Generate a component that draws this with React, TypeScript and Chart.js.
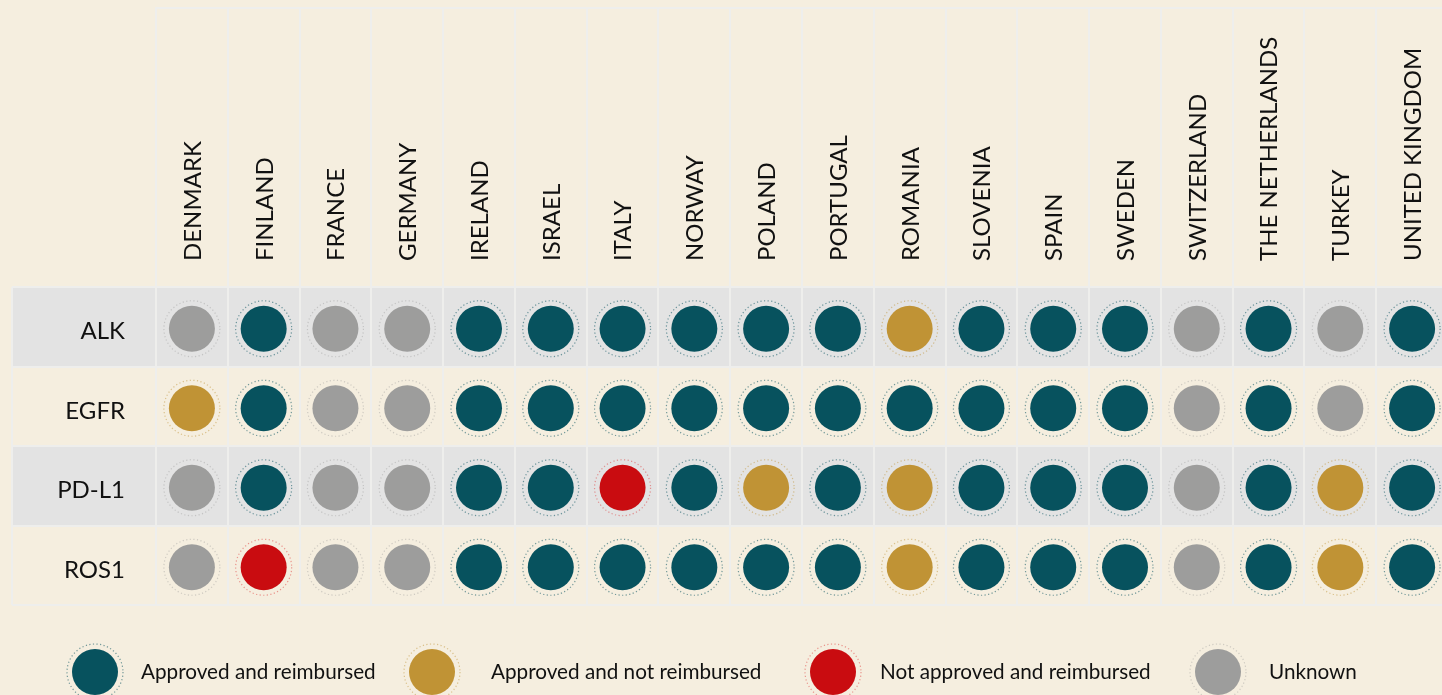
import React, { useEffect, useRef } from "react";
import { Chart, registerables } from "chart.js";

Chart.register(...registerables);

const countries = [
  "DENMARK", "FINLAND", "FRANCE", "GERMANY", "IRELAND", "ISRAEL", "ITALY", "NORWAY", "POLAND",
  "PORTUGAL", "ROMANIA", "SLOVENIA", "SPAIN", "SWEDEN", "SWITZERLAND", "THE NETHERLANDS", "TURKEY",
  "UNITED KINGDOM",
];
const biomarkers = ["ALK", "EGFR", "PD-L1", "ROS1"];

const statusLabels = [
  "Approved and reimbursed",
  "Approved and not reimbursed",
  "Not approved and reimbursed",
  "Unknown",
];
const statusColors = ["#07525e", "#c09335", "#c90c10", "#9d9d9c"];
const statusRings = [
  "rgba(7,82,94,0.55)",
  "rgba(192,147,53,0.5)",
  "rgba(220,40,40,0.45)",
  "rgba(150,150,150,0.4)",
];

// 0 = approved & reimbursed, 1 = approved & not reimbursed, 2 = not approved & reimbursed, 3 = unknown
const alkStatus = [3, 0, 3, 3, 0, 0, 0, 0, 0, 0, 1, 0, 0, 0, 3, 0, 3, 0];
const egfrStatus = [1, 0, 3, 3, 0, 0, 0, 0, 0, 0, 0, 0, 0, 0, 3, 0, 3, 0];
const pdl1Status = [3, 0, 3, 3, 0, 0, 2, 0, 1, 0, 1, 0, 0, 0, 3, 0, 1, 0];
const ros1Status = [3, 2, 3, 3, 0, 0, 0, 0, 0, 0, 1, 0, 0, 0, 3, 0, 1, 0];
const statusRows = [alkStatus, egfrStatus, pdl1Status, ros1Status];

const BG = "#f5eedf";
const ROW_GRAY = "#e3e3e3";
const LINE = "#eeeeec";
const FONT = "Lato, 'Open Sans', sans-serif";

const CANVAS_W = 1471;
const CANVAS_H = 695;
const ROW_SHIFT = -2; // table rows sit slightly above the mark centres
const LEGEND_Y = 672;
const LEGEND_CIRCLE_X = [95, 432, 833, 1218];
const LEGEND_TEXT_X = [141, 491, 880, 1269];

const tablePlugin = {
  id: "tableGrid",
  beforeDraw(chart: any) {
    const { ctx, chartArea, scales } = chart;
    const x = scales.x;
    const y = scales.y;
    const tableLeft = 12;
    const headerTop = 8;
    const rowH = (chartArea.bottom - chartArea.top) / biomarkers.length;
    const colW = (chartArea.right - chartArea.left) / countries.length;
    const top = chartArea.top + ROW_SHIFT;
    const bottom = chartArea.bottom + ROW_SHIFT;
    ctx.save();
    ctx.fillStyle = BG;
    ctx.fillRect(0, 0, chart.width, chart.height);
    biomarkers.forEach((_b, i) => {
      if (i % 2 === 0) {
        const cy = y.getPixelForValue(i) + ROW_SHIFT;
        ctx.fillStyle = ROW_GRAY;
        ctx.fillRect(tableLeft, cy - rowH / 2, chart.width - tableLeft, rowH);
      }
    });
    ctx.strokeStyle = LINE;
    ctx.lineWidth = 2;
    ctx.beginPath();
    for (let i = 0; i <= countries.length; i++) {
      const xb = Math.round(
        x.getPixelForValue(Math.min(i, countries.length - 1)) + (i === countries.length ? colW / 2 : -colW / 2)
      );
      ctx.moveTo(xb, headerTop);
      ctx.lineTo(xb, bottom);
    }
    ctx.moveTo(chartArea.left - 1, headerTop);
    ctx.lineTo(chart.width, headerTop);
    for (let j = 0; j <= biomarkers.length; j++) {
      const yb = Math.round(top + j * rowH);
      ctx.moveTo(tableLeft, yb);
      ctx.lineTo(chart.width, yb);
    }
    ctx.moveTo(tableLeft, top);
    ctx.lineTo(tableLeft, bottom);
    ctx.stroke();
    ctx.restore();
  },
  afterDatasetsDraw(chart: any) {
    const { ctx } = chart;
    ctx.save();
    ctx.lineWidth = 1.2;
    ctx.setLineDash([1.2, 2.4]);
    chart.data.datasets.forEach((ds: any, di: number) => {
      const meta = chart.getDatasetMeta(di);
      meta.data.forEach((pt: any) => {
        ctx.strokeStyle = ds.ringColor;
        ctx.beginPath();
        ctx.arc(pt.x, pt.y, 28, 0, Math.PI * 2);
        ctx.stroke();
      });
    });
    ctx.restore();
  },
  afterDraw(chart: any) {
    const { ctx } = chart;
    const cy = LEGEND_Y;
    ctx.save();
    ctx.font = `20.7px ${FONT}`;
    ctx.textBaseline = "middle";
    ctx.textAlign = "left";
    chart.data.datasets.forEach((ds: any, i: number) => {
      const cx = LEGEND_CIRCLE_X[i];
      ctx.fillStyle = ds.backgroundColor;
      ctx.beginPath();
      ctx.arc(cx, cy, 23, 0, Math.PI * 2);
      ctx.fill();
      ctx.save();
      ctx.lineWidth = 1.2;
      ctx.setLineDash([1.2, 2.4]);
      ctx.strokeStyle = ds.ringColor;
      ctx.beginPath();
      ctx.arc(cx, cy, 28, 0, Math.PI * 2);
      ctx.stroke();
      ctx.restore();
      ctx.fillStyle = "#111111";
      ctx.fillText(ds.label, LEGEND_TEXT_X[i], cy);
    });
    ctx.restore();
  },
};

export default function App() {
  const canvasRef = useRef<HTMLCanvasElement | null>(null);

  useEffect(() => {
    const canvas = canvasRef.current;
    if (!canvas) return;
    const datasets = statusLabels.map((label, s) => {
      const pts: { x: string; y: string }[] = [];
      statusRows.forEach((row, r) => {
        row.forEach((v, c) => {
          if (v === s) pts.push({ x: countries[c], y: biomarkers[r] });
        });
      });
      return {
        label,
        data: pts,
        backgroundColor: statusColors[s],
        borderWidth: 0,
        pointRadius: 23,
        pointHoverRadius: 23,
        ringColor: statusRings[s],
      } as any;
    });

    const chart = new Chart(canvas, {
      type: "scatter",
      data: { datasets },
      plugins: [tablePlugin],
      options: {
        animation: false,
        responsive: false,
        devicePixelRatio: 1,
        events: [],
        layout: { padding: { left: 0, right: 12, top: 0, bottom: 88 } },
        plugins: { legend: { display: false }, tooltip: { enabled: false } },
        scales: {
          x: {
            type: "category",
            labels: countries,
            position: "top",
            offset: true,
            grid: { display: false, drawTicks: false },
            border: { display: false },
            ticks: {
              autoSkip: false,
              maxRotation: 90,
              minRotation: 90,
              padding: 28,
              labelOffset: 30,
              color: "#111111",
              font: { family: FONT, size: 24 },
            },
            afterFit: (scale: any) => {
              scale.height = 289;
            },
          },
          y: {
            type: "category",
            labels: biomarkers,
            offset: true,
            grid: { display: false, drawTicks: false },
            border: { display: false },
            ticks: {
              padding: 31,
              labelOffset: 3,
              color: "#111111",
              font: { family: FONT, size: 24 },
            },
            afterFit: (scale: any) => {
              scale.width = 156;
            },
          },
        },
      } as any,
    });
    return () => chart.destroy();
  }, []);

  return (
    <div
      style={{
        position: "fixed",
        left: 0,
        top: 0,
        width: "100vw",
        height: "100vh",
        overflow: "hidden",
        background: BG,
      }}
    >
      <canvas
        ref={canvasRef}
        width={CANVAS_W}
        height={CANVAS_H}
        style={{ display: "block", width: CANVAS_W, height: CANVAS_H }}
      />
    </div>
  );
}
